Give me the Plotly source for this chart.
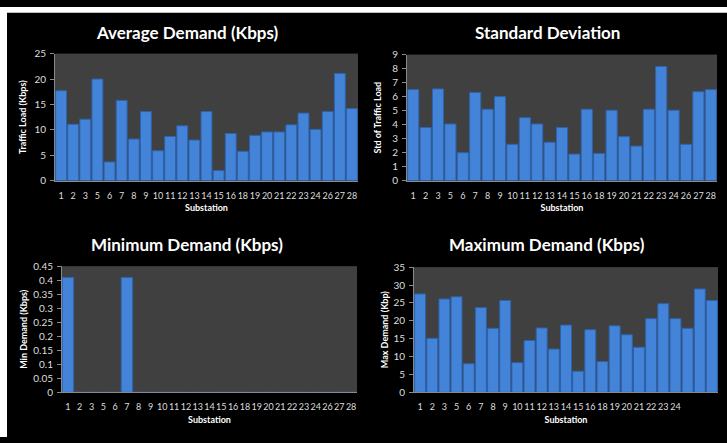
import plotly.graph_objects as go

substations = ["1", "2", "3", "5", "6", "7", "8", "9", "10", "11", "12", "13", "14",
               "15", "16", "18", "19", "20", "21", "22", "23", "24", "26", "27", "28"]

avg_demand = [17.7, 11.1, 12.1, 20.0, 3.7, 15.8, 8.2, 13.6, 5.9, 8.7, 10.8, 8.0, 13.6,
              2.0, 9.3, 5.8, 8.9, 9.6, 9.6, 11.0, 13.3, 10.1, 13.6, 21.1, 14.2]

std_demand = [6.5, 3.8, 6.55, 4.05, 2.0, 6.3, 5.1, 6.0, 2.6, 4.5, 4.05, 2.75, 3.8,
              1.9, 5.1, 1.95, 5.03, 3.15, 2.47, 5.1, 8.15, 5.03, 2.6, 6.35, 6.5]

min_demand = [0.41, 0, 0, 0, 0, 0.41, 0, 0, 0, 0, 0, 0, 0,
              0, 0, 0, 0, 0, 0, 0, 0, 0, 0, 0, 0]

max_demand = [27.5, 15.1, 26.1, 26.7, 8.0, 23.7, 17.9, 25.7, 8.3, 14.5, 18.0, 12.1, 18.8,
              5.9, 17.5, 8.6, 18.6, 16.1, 12.6, 20.6, 24.8, 20.6, 17.9, 28.9, 25.7]

# the maximum-demand chart only labels up to substation 24
max_tick_labels = ["1", "2", "3", "5", "6", "7", "8", "9", "10", "11", "12", "13", "14",
                   "15", "16", "18", "19", "20", "21", "22", "23", "24", "", "", ""]

titles = ["Average Demand (Kbps)", "Standard Deviation",
          "Minimum Demand (Kbps)", "Maximum Demand (Kbps)"]
y_titles = ["Traffic Load (Kbps)", "Std of Traffic Load",
            "Min Demand (Kbps)", "Max Demand (Kbp)"]
x_title = "Substation"

W, H = 727, 443
FONT = "Lato, Open Sans, sans-serif"
BAR = "#4384d8"
BAR_EDGE = "#2d62ad"
PLOT_BG = "#404040"
TICK_COL = "#dedede"
AXIS_COL = "#8a8a8a"

# panel geometry in pixels: (left, right, top, bottom)
panels = [(55, 358, 48, 179), (407, 717, 49, 179),
          (62, 357, 267, 397), (414, 718, 268, 397)]
series = [avg_demand, std_demand, min_demand, max_demand]
yranges = [(0, 25, 5), (0, 9, 1), (0, 0.45, 0.05), (0, 35, 5)]
gaps = [0.1, 0.1, 0.03, 0.1]
ystandoffs = [6, 9, 4, 3]
title_pos = [(187, 26), (547, 26), (187, 245), (547, 245)]

fig = go.Figure()
layout = dict(
    width=W, height=H,
    margin=dict(l=0, r=0, t=0, b=0),
    paper_bgcolor="black",
    plot_bgcolor=PLOT_BG,
    showlegend=False,
    font=dict(family=FONT, color=TICK_COL),
)

annotations = []
for i in range(4):
    n = "" if i == 0 else str(i + 1)
    l, r, t, b = panels[i]
    fig.add_trace(go.Bar(
        x=substations, y=series[i],
        marker=dict(color=BAR, line=dict(width=1, color=BAR_EDGE)),
        xaxis="x" + n, yaxis="y" + n,
        width=1 - gaps[i],
    ))
    ticktext = max_tick_labels if i == 3 else substations
    layout["xaxis" + n] = dict(
        domain=[l / W, r / W], anchor="y" + n,
        type="category", categoryorder="array", categoryarray=substations,
        tickmode="array", tickvals=substations, ticktext=ticktext,
        tickangle=0, tickfont=dict(size=9, color=TICK_COL),
        ticks="", showline=True, linecolor=AXIS_COL, linewidth=1,
        showgrid=False, ticklabelstandoff=6,
        title=dict(text="<b>" + x_title + "</b>", font=dict(size=9, color="white"),
                   standoff=5),
        fixedrange=True,
    )
    y0, y1, dt = yranges[i]
    layout["yaxis" + n] = dict(
        domain=[1 - b / H, 1 - t / H], anchor="x" + n,
        range=[y0, y1], dtick=dt, tick0=0,
        tickfont=dict(size=10, color=TICK_COL),
        ticks="outside", ticklen=4, tickcolor=AXIS_COL,
        showline=True, linecolor=AXIS_COL, linewidth=1,
        showgrid=False, zeroline=False, ticklabelstandoff=2,
        title=dict(text="<b>" + y_titles[i] + "</b>", font=dict(size=9, color="white"),
                   standoff=ystandoffs[i]),
        fixedrange=True,
    )
    cx, cy = title_pos[i]
    annotations.append(dict(
        text="<b>" + titles[i] + "</b>", x=cx / W, y=1 - cy / H,
        xref="paper", yref="paper", xanchor="center", yanchor="middle",
        showarrow=False, font=dict(size=17, color="white", family=FONT),
    ))

layout["annotations"] = annotations
layout["shapes"] = [
    dict(type="rect", xref="paper", yref="paper", x0=0, x1=7 / W, y0=0, y1=1,
         fillcolor="white", line=dict(width=0), layer="below"),
    dict(type="rect", xref="paper", yref="paper", x0=0, x1=1, y0=1 - 6 / H, y1=1,
         fillcolor="white", line=dict(width=0), layer="below"),
]
fig.update_layout(**layout)

fig.write_html("out.html", config={"displayModeBar": False})
